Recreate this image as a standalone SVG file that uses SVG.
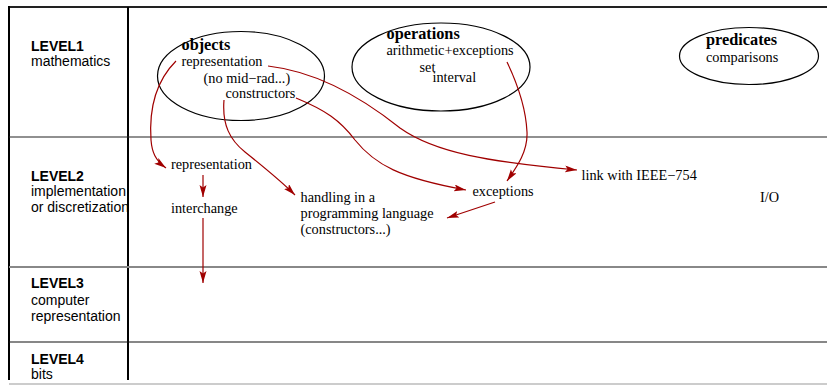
<svg xmlns="http://www.w3.org/2000/svg" width="827" height="385" viewBox="0 0 827 385">
<defs>
<style>
.lbl{font-family:"Liberation Sans",Arial,sans-serif;font-size:14px;fill:#000}
.lb{font-weight:bold}
.s{font-family:"Liberation Serif","Times New Roman",serif;font-size:14.3px;fill:#000}
.h{font-family:"Liberation Serif","Times New Roman",serif;font-size:16.3px;font-weight:bold;fill:#000}
.ell{fill:none;stroke:#000;stroke-width:1.2}
.arr{fill:none;stroke:#a00000;stroke-width:1.2;marker-end:url(#ah)}
</style>
<marker id="ah" markerUnits="userSpaceOnUse" markerWidth="14" markerHeight="10" refX="12" refY="3.5" orient="auto">
<path d="M0,0 L12,3.5 L0,7 L2.5,3.5 z" fill="#a00000"/>
</marker>
</defs>
<g id="frame">
<line x1="8" y1="7" x2="827" y2="7" stroke="#222" stroke-width="2"/>
<line x1="9" y1="6" x2="9" y2="380" stroke="#000" stroke-width="2"/>
<line x1="128" y1="7" x2="128" y2="380" stroke="#000" stroke-width="2"/>
<line x1="9" y1="137" x2="827" y2="137" stroke="#222" stroke-width="1.2"/>
<line x1="9" y1="267" x2="827" y2="267" stroke="#888" stroke-width="2"/>
<line x1="9" y1="342" x2="827" y2="342" stroke="#111" stroke-width="1.2"/>
<line x1="9" y1="384" x2="827" y2="384" stroke="#bbb" stroke-width="1.5"/>
</g>
<g id="level-labels">
<text class="lbl lb" x="31" y="51">LEVEL1</text>
<text class="lbl" x="31" y="66">mathematics</text>
<text class="lbl lb" x="31" y="181">LEVEL2</text>
<text class="lbl" x="31" y="196">implementation</text>
<text class="lbl" x="31" y="212">or discretization</text>
<text class="lbl lb" x="31" y="288">LEVEL3</text>
<text class="lbl" x="31" y="305">computer</text>
<text class="lbl" x="31" y="321">representation</text>
<text class="lbl lb" x="31" y="364">LEVEL4</text>
<text class="lbl" x="31" y="379">bits</text>
</g>
<g id="objects">
<ellipse class="ell" cx="241" cy="76" rx="83.5" ry="44.5"/>
<text class="h" x="181.5" y="50">objects</text>
<text class="s" x="181.5" y="66">representation</text>
<text class="s" x="203.5" y="83">(no mid−rad...)</text>
<text class="s" x="225.5" y="98">constructors</text>
</g>
<g id="operations">
<ellipse class="ell" cx="441" cy="67" rx="89" ry="44"/>
<text class="h" x="386.5" y="39">operations</text>
<text class="s" x="386.5" y="55">arithmetic+exceptions</text>
<text class="s" x="419.5" y="72">set</text>
<text class="s" x="432.5" y="82">interval</text>
</g>
<g id="predicates">
<ellipse class="ell" cx="749" cy="56" rx="69.5" ry="28.5"/>
<text class="h" x="706" y="44.5">predicates</text>
<text class="s" x="706" y="61.5">comparisons</text>
</g>
<g id="l2-representation"><text class="s" x="171" y="169">representation</text></g>
<g id="l2-interchange"><text class="s" x="171" y="212.5">interchange</text></g>
<g id="l2-handling">
<text class="s" x="300.5" y="201.5">handling in a</text>
<text class="s" x="300.5" y="217.5">programming language</text>
<text class="s" x="300.5" y="233.5">(constructors...)</text>
</g>
<g id="l2-exceptions"><text class="s" x="472.5" y="195.5">exceptions</text></g>
<g id="l2-ieee"><text class="s" x="581.5" y="180">link with IEEE−754</text></g>
<g id="l2-io"><text class="s" x="760" y="201.5">I/O</text></g>
<g id="connectors">
<path class="arr" d="M176,61 C155,82 149,110 151,140 C152,152 155,160 166,168"/>
<path class="arr" d="M224,100 C222,125 230,140 245,152 C265,168 282,182 295,195"/>
<path class="arr" d="M296,98 C325,110 340,120 355,140 C375,165 400,178 466,190"/>
<path class="arr" d="M268,66 C320,72 365,100 400,128 C435,153 490,162 577,170"/>
<path class="arr" d="M507,62 C518,85 526,110 527,132 C528,152 516,168 507,181"/>
<path class="arr" d="M495,202 L447,218"/>
<path class="arr" d="M203,175 L203,197"/>
<path class="arr" d="M203,218 L203,283"/>
</g>
</svg>
